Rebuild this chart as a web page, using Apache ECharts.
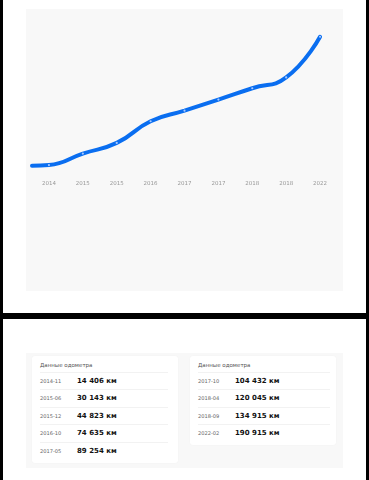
<!DOCTYPE html>
<html>
<head>
<meta charset="utf-8">
<script src="https://cdn.jsdelivr.net/npm/echarts@6/dist/echarts.min.js"></script>
<style>
  html, body { margin:0; padding:0; width:369px; height:480px; background:#000; overflow:hidden; font-family:"DejaVu Sans", sans-serif; }
  .sheet { position:absolute; left:3px; width:363px; background:#fff; }
  .panel { position:absolute; background:#f8f8f8; }
  .card { position:absolute; background:#fff; border-radius:3px; box-shadow:0 0 2px rgba(0,0,0,0.03); }
  .hdr { position:absolute; font-size:5.5px; color:#555; line-height:8px; white-space:nowrap; }
  .sep { position:absolute; height:1px; background:#f2f2f2; }
  .date { position:absolute; font-size:5.1px; color:#666; line-height:8px; white-space:nowrap; }
  .val { position:absolute; font-size:7px; font-weight:bold; color:#111; line-height:10px; white-space:nowrap; }
</style>
</head>
<body>
<div class="sheet" style="top:0;height:313px;"></div>
<div class="sheet" style="top:319px;height:161px;"></div>
<div id="chart" style="position:absolute;left:26px;top:9px;width:317px;height:282px;background:#f8f8f8;"></div>
<div class="panel" style="left:26px;top:353px;width:317px;height:115px;"></div>
<div class="card" id="cardL" style="left:32px;top:356px;width:146px;height:107px;"></div>
<div class="card" id="cardR" style="left:190px;top:356px;width:146px;height:89px;"></div>
<script>
// ---- data ----
const dates = ['2014-11','2015-06','2015-12','2016-10','2017-05','2017-10','2018-04','2018-09','2022-02'];
const mileage = [14406, 30143, 44823, 74635, 89254, 104432, 120045, 134915, 190915];
const xLabels = ['2014','2015','2015','2016','2017','2017','2018','2018','2022'];
const startMileage = 13500; // line stub entering from the left edge
const tableTitle = 'Данные одометра';
const leftCount = 5;

// ---- chart ----
const chart = echarts.init(document.getElementById('chart'), null, {renderer:'canvas'});
const lineData = [{value:[-0.5, startMileage], symbol:'none'}].concat(
  mileage.map((v, i) => [i, v])
);
chart.setOption({
  animation:false,
  grid:{left:6, right:6, top:3, height:163.5},
  xAxis:[
    {type:'category', data:xLabels, boundaryGap:true,
     axisLine:{show:false}, axisTick:{show:false}, splitLine:{show:false},
     axisLabel:{interval:0, color:'#999999', fontSize:5.5, margin:5.3, fontFamily:'DejaVu Sans'}},
    {type:'value', min:-0.5, max:8.5, show:false}
  ],
  yAxis:{type:'value', min:0, max:225000, show:false},
  series:[{
    type:'line', xAxisIndex:1, data:lineData, smooth:0.5,
    lineStyle:{width:4, color:'#0a6ef0', cap:'round'},
    symbol:'circle', symbolSize:2.2,
    itemStyle:{color:'#a9c9ff', borderWidth:0}
  }]
});

// ---- tables ----
function fmt(v){ return String(v).replace(/\B(?=(\d{3})+(?!\d))/g, ' ') + ' км'; }
function buildCard(el, cardTop, lineWidth, items){
  const add = (cls, css, txt) => {
    const d = document.createElement('div'); d.className = cls;
    Object.assign(d.style, css); if (txt !== undefined) d.textContent = txt;
    el.appendChild(d);
  };
  add('hdr', {left:'8px', top:(365 - cardTop - 4.5) + 'px'}, tableTitle);
  items.forEach((it, i) => {
    const lineY = 371.5 + i * 17.5;
    add('sep', {left:'8px', width:lineWidth + 'px', top:(lineY - cardTop) + 'px'});
    const cy = lineY + 9.2;
    add('date', {left:'8px', top:(cy - cardTop - 4) + 'px'}, it[0]);
    add('val', {left:'45px', top:(cy - cardTop - 5) + 'px'}, fmt(it[1]));
  });
}
const items = dates.map((d, i) => [d, mileage[i]]);
buildCard(document.getElementById('cardL'), 356, 128, items.slice(0, leftCount));
buildCard(document.getElementById('cardR'), 356, 132, items.slice(leftCount));
</script>
</body>
</html>
